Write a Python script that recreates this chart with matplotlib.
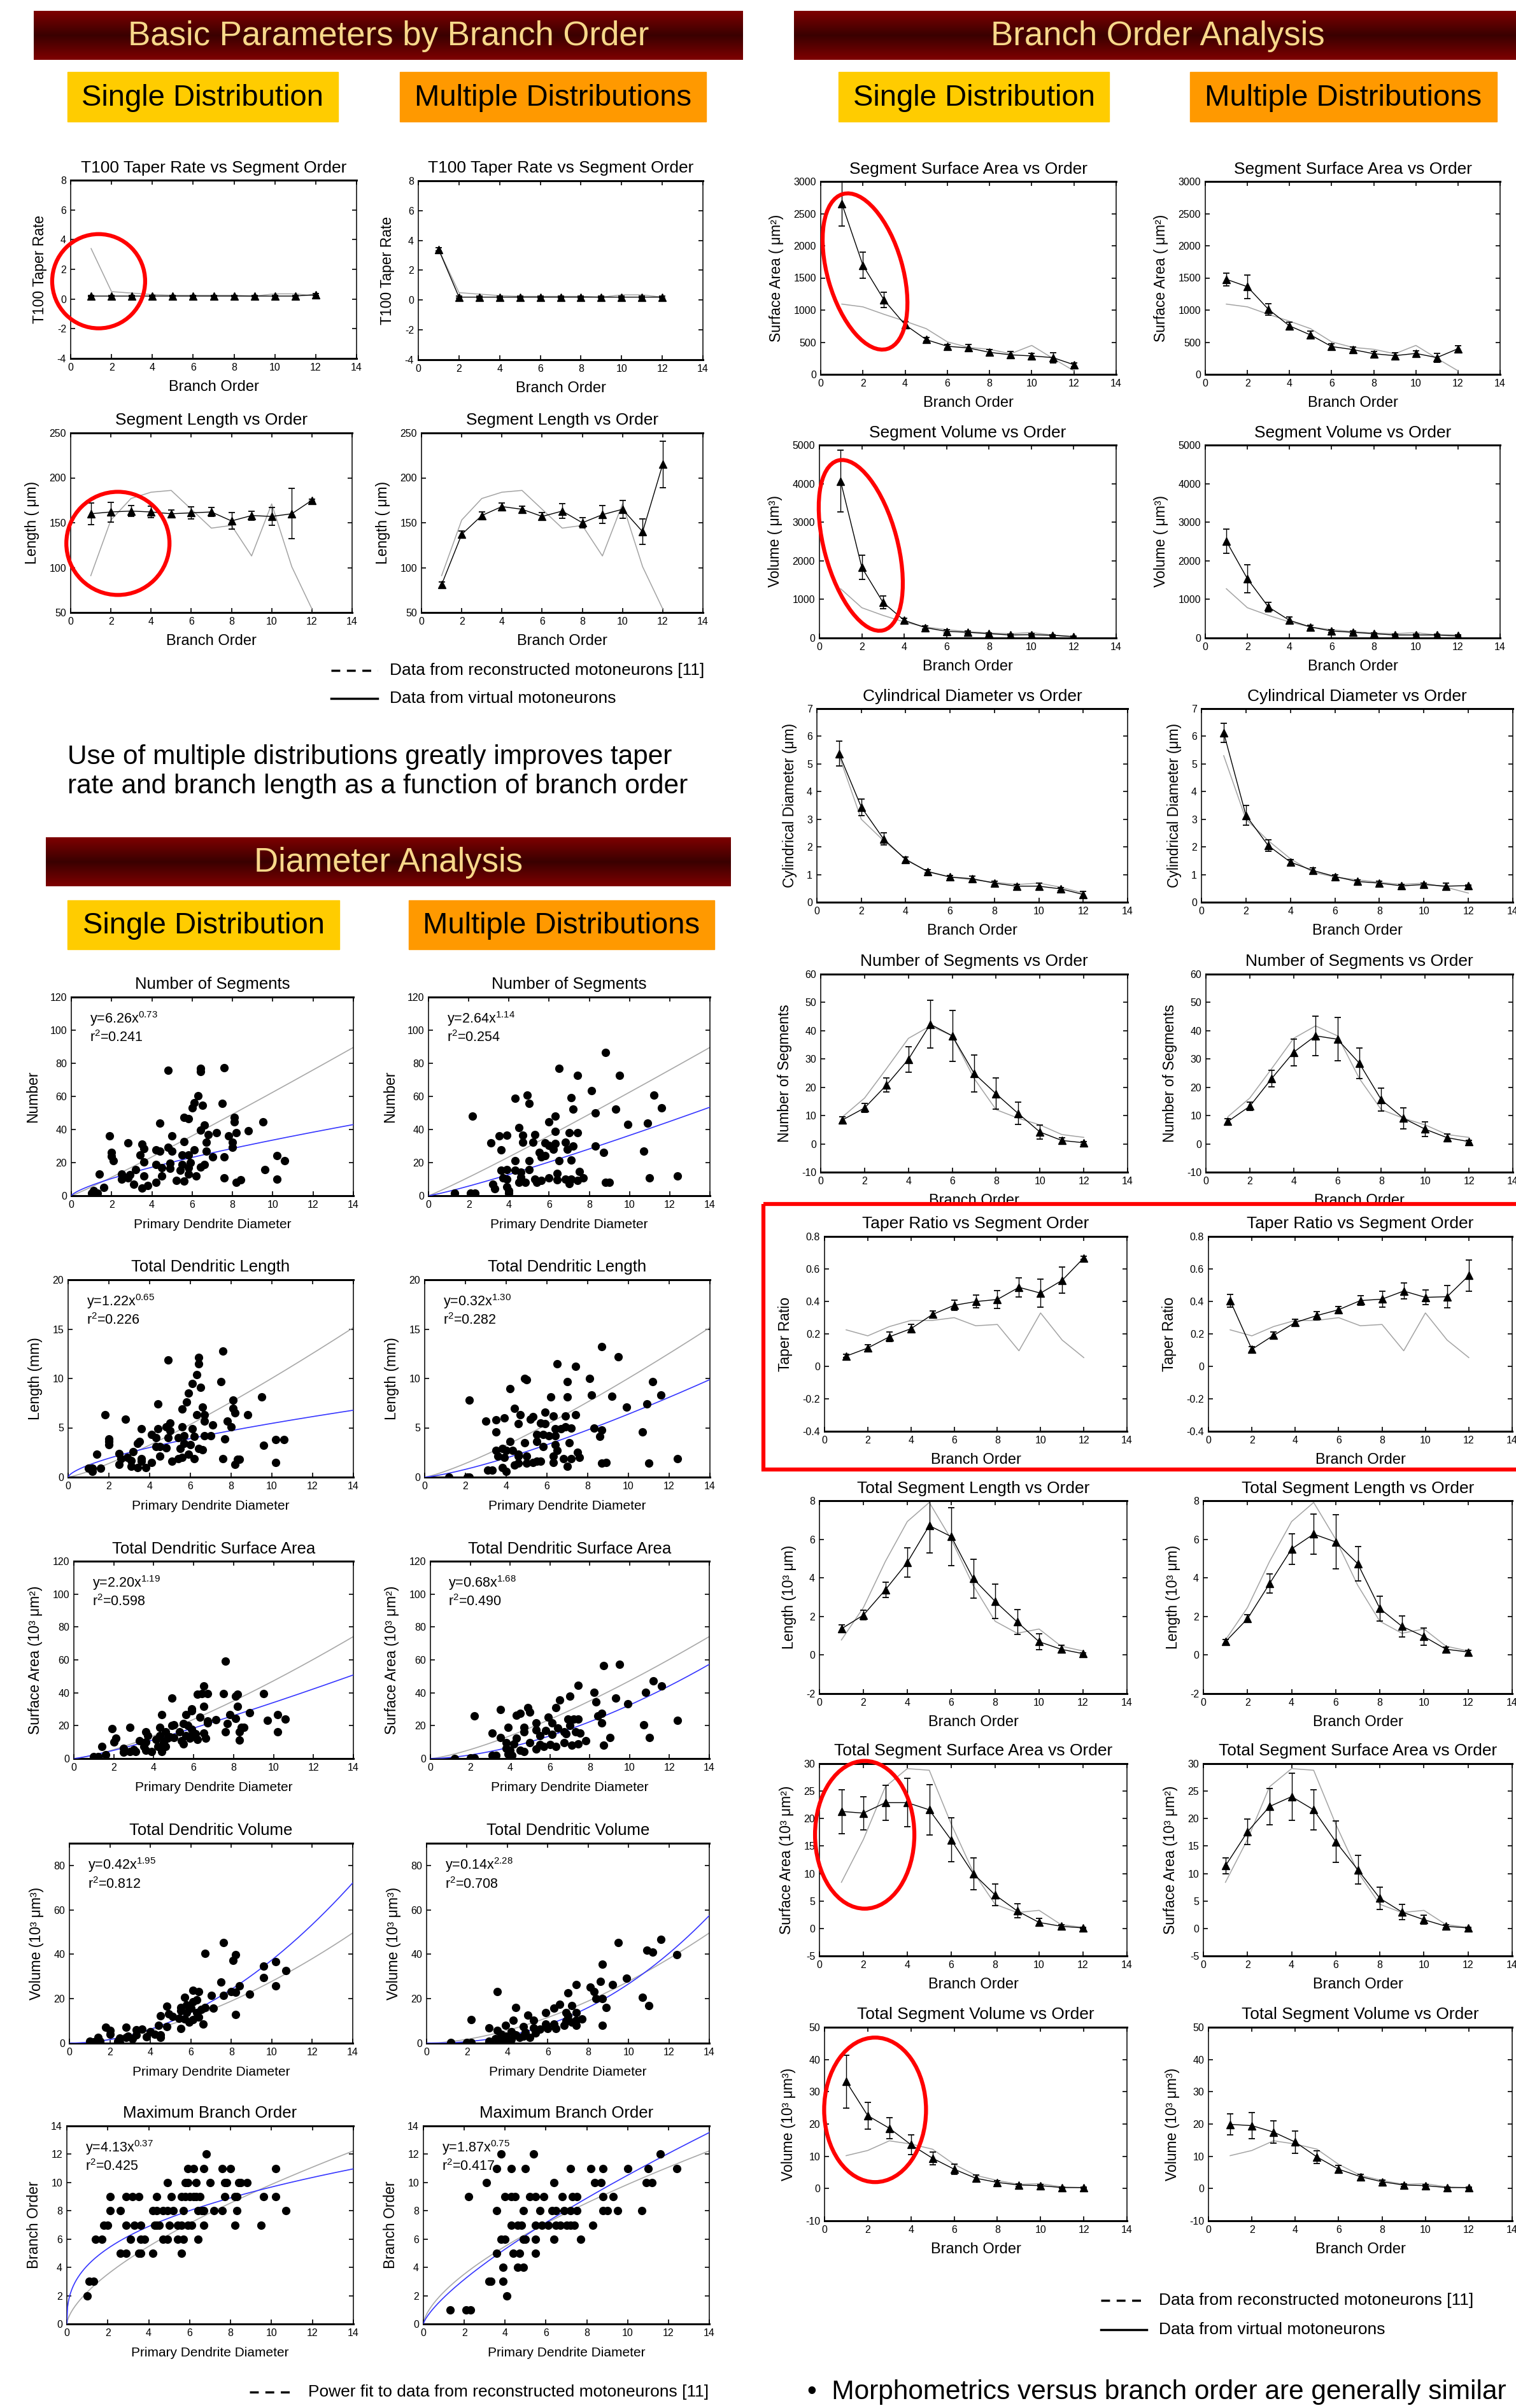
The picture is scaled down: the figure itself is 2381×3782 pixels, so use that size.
import numpy as np
import matplotlib
matplotlib.use('Agg')
import matplotlib.pyplot as plt
from matplotlib.patches import Ellipse, Rectangle
from matplotlib.colors import LinearSegmentedColormap

plt.rcParams['font.family'] = ['Liberation Sans', 'DejaVu Sans']
plt.rcParams['axes.unicode_minus'] = False
plt.rcParams['mathtext.fontset'] = 'custom'
plt.rcParams['mathtext.rm'] = 'Liberation Sans'
plt.rcParams['mathtext.it'] = 'Liberation Sans'
plt.rcParams['mathtext.default'] = 'regular'

# ---------------- branch order data (orders 1..12) ----------------
order = [1, 2, 3, 4, 5, 6, 7, 8, 9, 10, 11, 12]

t100_recon = [3.4, 0.5, 0.4, 0.3, 0.25, 0.25, 0.25, 0.25, 0.2, 0.35, 0.35, 0.2]
t100_single = [0.2, 0.2, 0.2, 0.2, 0.2, 0.2, 0.2, 0.2, 0.2, 0.2, 0.2, 0.3]
t100_single_err = [0.05, 0.05, 0.05, 0.05, 0.05, 0.05, 0.05, 0.05, 0.05, 0.05, 0.05, 0.05]
t100_multi = [3.4, 0.2, 0.2, 0.2, 0.2, 0.2, 0.2, 0.2, 0.2, 0.2, 0.2, 0.2]
t100_multi_err = [0.1, 0.05, 0.05, 0.05, 0.05, 0.05, 0.05, 0.05, 0.05, 0.05, 0.05, 0.05]

seglen_recon = [91, 153, 177, 184, 186, 165, 144, 147, 113, 171, 101, 54]
seglen_single = [160, 162, 163, 162, 160, 161, 162, 152, 158, 157, 160, 175]
seglen_single_err = [12, 11, 6, 6.5, 4.5, 6.5, 5, 9, 5, 10, 28, 1]
seglen_multi = [81, 137, 158, 168, 165, 157, 163, 150, 159, 165, 140, 215]
seglen_multi_err = [3, 3.5, 4, 4, 3.5, 4, 8, 6, 10, 10, 14, 26]

segsa_recon = [1093, 1050, 934, 827, 711, 506, 420, 390, 321, 450, 249, 56]
segsa_single = [2657, 1697, 1157, 771, 540, 437, 411, 343, 304, 287, 261, 150]
segsa_single_err = [350, 200, 120, 50, 30, 30, 50, 40, 50, 40, 80, 30]
segsa_multi = [1479, 1363, 1011, 754, 613, 433, 386, 321, 291, 326, 261, 399]
segsa_multi_err = [100, 180, 90, 60, 60, 40, 40, 40, 50, 40, 70, 50]

segvol_recon = [1276, 784, 586, 414, 284, 215, 164, 129, 112, 138, 78, 34]
segvol_single = [4060, 1828, 922, 457, 267, 172, 147, 112, 78, 86, 69, 34]
segvol_single_err = [800, 310, 160, 60, 40, 40, 30, 25, 20, 25, 20, 15]
segvol_multi = [2509, 1534, 802, 457, 284, 181, 147, 112, 78, 78, 78, 69]
segvol_multi_err = [310, 360, 120, 80, 50, 40, 30, 25, 20, 20, 20, 20]

cyl_recon = [5.3, 3.0, 2.23, 1.57, 1.09, 0.91, 0.81, 0.72, 0.64, 0.69, 0.54, 0.33]
cyl_single = [5.37, 3.44, 2.29, 1.54, 1.11, 0.91, 0.85, 0.69, 0.58, 0.58, 0.48, 0.28]
cyl_single_err = [0.45, 0.3, 0.22, 0.1, 0.06, 0.06, 0.1, 0.06, 0.06, 0.1, 0.06, 0.1]
cyl_multi = [6.13, 3.14, 2.05, 1.45, 1.15, 0.93, 0.75, 0.69, 0.59, 0.64, 0.58, 0.60]
cyl_multi_err = [0.35, 0.35, 0.2, 0.1, 0.1, 0.06, 0.06, 0.06, 0.06, 0.06, 0.12, 0.03]

nseg_recon = [9.6, 16.2, 26.6, 37.3, 41.7, 38.2, 23.1, 12.1, 9.1, 6.7, 3.3, 2.3]
nseg_single = [8.5, 12.7, 20.8, 29.9, 42.3, 38.2, 24.9, 17.7, 10.8, 4.2, 1.2, 0.4]
nseg_single_err = [1, 1.5, 2.5, 4.5, 8.5, 9, 6.5, 5.5, 4, 2.5, 1, 0.5]
nseg_multi = [7.9, 13.3, 23.1, 32.4, 38.2, 37.0, 28.5, 15.6, 9.1, 5.2, 2.2, 0.8]
nseg_multi_err = [1, 1.5, 3, 4.7, 7, 7.7, 5.4, 4, 3.7, 2.6, 1.3, 0.5]

taper_recon = [0.225, 0.188, 0.245, 0.283, 0.283, 0.30, 0.25, 0.258, 0.096, 0.329, 0.162, 0.054]
taper_single = [0.063, 0.113, 0.182, 0.232, 0.32, 0.376, 0.399, 0.412, 0.487, 0.451, 0.53, 0.668]
taper_single_err = [0.01, 0.02, 0.03, 0.025, 0.02, 0.03, 0.04, 0.054, 0.06, 0.088, 0.08, 0.01]
taper_multi = [0.405, 0.105, 0.191, 0.27, 0.313, 0.349, 0.405, 0.414, 0.464, 0.425, 0.429, 0.559]
taper_multi_err = [0.04, 0.015, 0.02, 0.02, 0.025, 0.02, 0.03, 0.05, 0.05, 0.045, 0.07, 0.095]

totlen_recon = [0.78, 2.46, 4.85, 6.92, 7.91, 6.0, 3.61, 1.75, 1.13, 1.35, 0.46, 0.21]
totlen_single = [1.36, 2.07, 3.38, 4.8, 6.71, 6.14, 3.96, 2.78, 1.72, 0.69, 0.3, 0.07]
totlen_single_err = [0.2, 0.25, 0.4, 0.75, 1.4, 1.5, 1.0, 0.9, 0.65, 0.42, 0.2, 0.05]
totlen_multi = [0.69, 1.88, 3.7, 5.5, 6.27, 5.86, 4.73, 2.41, 1.49, 0.96, 0.3, 0.16]
totlen_multi_err = [0.1, 0.2, 0.5, 0.8, 1.05, 1.4, 0.9, 0.65, 0.55, 0.45, 0.12, 0.1]

totsa_recon = [8.4, 16.2, 25.8, 29.1, 28.8, 19.0, 10.3, 4.4, 2.9, 3.3, 0.7, 0.2]
totsa_single = [21.3, 21.0, 22.9, 22.9, 21.6, 16.1, 10.0, 6.1, 3.2, 1.1, 0.4, 0.1]
totsa_single_err = [4, 3, 3.2, 4.4, 4.6, 4, 2.9, 2, 1.3, 0.7, 0.3, 0.1]
totsa_multi = [11.4, 17.6, 22.2, 24.0, 21.6, 15.8, 10.7, 5.5, 3.0, 1.6, 0.4, 0.1]
totsa_multi_err = [1.5, 2.3, 3.3, 4.3, 3.7, 3.8, 2.6, 2.0, 1.4, 0.8, 0.3, 0.1]

totvol_recon = [10.2, 11.8, 14.8, 13.8, 12.2, 7.5, 4.1, 2.5, 1.3, 1.5, 0.5, 0.3]
totvol_single = [33.2, 22.6, 18.7, 13.6, 9.4, 6.0, 3.2, 1.9, 1.1, 0.9, 0.3, 0.3]
totvol_single_err = [8.2, 4.2, 3.3, 3, 2, 1.5, 1, 0.6, 0.4, 0.3, 0.2, 0.2]
totvol_multi = [19.9, 19.5, 17.5, 14.4, 9.8, 6.0, 3.7, 2.1, 1.1, 0.9, 0.3, 0.3]
totvol_multi_err = [3.3, 4, 3.5, 3.5, 2, 1.2, 0.8, 0.5, 0.4, 0.3, 0.2, 0.2]

# ---------------- diameter analysis data (diameter, value) ----------------
nseg_s_pts = [(4.8, 75.6), (6.4, 75), (6.4, 77), (7.6, 77.2), (6.3, 60.2), (6.1, 56), (6.0, 53), (6.5, 54.8),
              (7.5, 55.7), (5.6, 47.3), (5.8, 46.4), (4.4, 43.7), (6.6, 42.8), (8.1, 47.3), (8.1, 44.8), (9.5, 44.6),
              (1.9, 36.1), (5.0, 36.1), (6.4, 39.6), (6.8, 37), (7.2, 38), (7.8, 36), (8.2, 38), (8.8, 39.4),
              (2.8, 31.9), (3.5, 31.3), (5.6, 32.8), (6.7, 32.2), (8.0, 32.5), (8.0, 29.3), (2.0, 26.1), (2.0, 23.8),
              (2.1, 21), (3.4, 24.8), (3.6, 28.4), (4.2, 27.8), (4.4, 26.8), (4.8, 29.3), (5.0, 26.8), (5.5, 24.8),
              (5.8, 24.8), (6.1, 27.7), (6.7, 27.1), (7.0, 23.4), (7.6, 23.3), (10.2, 24.2), (10.6, 21), (3.6, 20.3),
              (4.2, 19), (4.9, 19.7), (5.5, 19), (5.9, 19.9), (6.6, 19), (4.5, 17.1), (4.9, 16.5), (5.4, 15.2),
              (5.8, 17.1), (6.4, 17.4), (3.2, 15.8), (9.6, 15.6), (1.4, 13.2), (2.5, 13.2), (2.9, 12.6), (3.6, 12),
              (4.5, 12), (5.2, 9.4), (5.6, 8.7), (5.8, 13.2), (6.2, 12), (2.5, 10), (2.8, 10.7), (3.1, 7.1),
              (3.5, 4.6), (3.8, 6.2), (4.2, 8.1), (1.6, 4.9), (1.1, 3.2), (1.3, 1.7), (1.0, 1.7), (7.6, 10.7),
              (8.2, 8.1), (8.4, 9.6), (10.2, 10)]
nseg_m_pts = [(8.8, 86.6), (6.5, 76.9), (7.4, 72.8), (9.5, 72.8), (8.1, 63.4), (11.2, 60.8), (4.3, 59), (4.9, 60.8),
              (5.0, 55.7), (7.1, 59.2), (7.2, 52.5), (9.3, 52.5), (11.6, 53.1), (2.2, 48), (6.3, 48), (8.3, 49.9),
              (4.5, 41.3), (6.0, 44.5), (9.9, 43.1), (10.9, 43.7), (3.5, 36.1), (3.9, 36.7), (4.7, 36.4), (5.3, 37),
              (6.3, 39), (7.0, 38.2), (7.4, 38.2), (3.1, 31.9), (4.7, 32.5), (5.2, 32.5), (5.8, 31.9), (6.0, 30.4),
              (6.3, 31.5), (6.8, 32.5), (7.2, 30), (3.6, 27.7), (5.5, 26.1), (6.2, 28), (6.9, 28), (8.3, 30),
              (8.7, 26.1), (10.7, 26.8), (4.3, 21), (5.0, 21), (5.6, 23.5), (5.8, 24.2), (6.5, 21), (7.1, 21.6),
              (3.6, 15.2), (3.9, 15.8), (4.3, 15.2), (5.0, 15.6), (4.6, 14.3), (6.4, 13.5), (7.5, 14.8), (3.7, 10.7),
              (3.9, 10), (4.6, 11.3), (5.3, 10), (5.6, 9.4), (6.0, 10.7), (6.4, 9.6), (6.8, 10), (7.1, 10),
              (7.7, 10.7), (4.5, 8.1), (4.8, 8.1), (5.4, 8.1), (7.0, 7.5), (7.4, 9.4), (8.8, 8.1), (9.0, 8.1),
              (11.0, 10.7), (12.4, 12), (3.2, 6.8), (3.3, 4.2), (3.9, 5.5), (4.0, 3), (4.0, 1.7), (1.3, 1.4),
              (2.1, 1.4), (2.3, 1.4)]
len_s_pts = [(7.6, 12.8), (6.4, 12.1), (4.9, 11.9), (6.4, 11.5), (6.3, 10.4), (7.5, 9.7), (6.1, 9.5), (6.5, 9.1),
             (5.9, 8.5), (9.5, 8.1), (8.1, 7.8), (5.8, 7.6), (4.4, 7.4), (6.6, 7.1), (5.6, 6.9), (8.1, 7.0),
             (1.8, 6.3), (6.3, 6.3), (6.7, 6.3), (8.2, 6.5), (8.8, 6.3), (2.8, 5.9), (7.8, 5.7), (6.7, 5.7),
             (5.0, 5.5), (8.0, 5.1), (3.6, 4.9), (4.8, 5.1), (5.6, 5.1), (6.1, 4.9), (4.4, 4.9), (5.0, 4.7),
             (7.1, 5.3), (6.7, 4.2), (7.0, 4.2), (7.7, 3.9), (2.0, 3.9), (2.0, 3.6), (4.1, 4.3), (4.3, 4.0),
             (4.9, 4.0), (5.4, 4.0), (5.7, 4.2), (6.2, 4.1), (3.5, 3.6), (5.7, 3.4), (6.0, 3.3), (2.0, 3.3),
             (3.4, 3.4), (4.3, 3.1), (4.5, 3.1), (4.8, 3.0), (5.5, 2.9), (6.4, 2.9), (6.6, 2.8), (3.2, 2.6),
             (2.5, 2.4), (5.9, 2.3), (1.4, 2.3), (4.5, 2.1), (2.6, 1.9), (2.9, 2.0), (3.6, 1.9), (5.4, 1.9),
             (5.6, 2.0), (6.2, 1.9), (7.6, 1.9), (3.1, 1.7), (3.6, 1.6), (5.1, 1.6), (10.6, 3.8), (10.2, 3.8),
             (9.6, 3.2), (10.2, 1.5), (8.3, 1.8), (8.2, 1.3), (8.4, 1.8), (2.5, 1.3), (3.1, 1.1), (3.4, 1.0),
             (3.8, 1.0), (4.1, 1.5), (1.6, 0.9), (1.0, 0.9), (1.2, 0.6), (1.2, 0.9)]
len_m_pts = [(8.7, 13.2), (9.5, 12.2), (6.5, 11.5), (7.4, 11.2), (4.9, 10.0), (5.0, 9.9), (7.0, 9.7), (8.1, 10.0),
             (11.2, 9.7), (4.2, 9.0), (2.2, 7.8), (6.2, 8.1), (7.0, 8.1), (8.2, 8.3), (9.2, 8.2), (11.6, 8.3),
             (9.9, 7.1), (10.9, 7.4), (4.4, 7.0), (5.9, 6.6), (4.7, 6.3), (5.3, 6.1), (5.2, 5.9), (6.3, 6.2),
             (6.9, 6.2), (7.4, 6.3), (3.0, 5.7), (3.5, 5.8), (3.9, 6.0), (4.6, 5.4), (5.7, 5.5), (5.9, 5.4),
             (3.5, 4.6), (6.4, 4.9), (6.7, 4.9), (6.9, 5.1), (7.2, 5.0), (8.3, 5.0), (8.7, 4.8), (10.7, 4.6),
             (5.5, 4.3), (5.8, 4.3), (6.1, 4.2), (6.4, 4.2), (8.6, 4.1), (4.2, 3.6), (4.9, 3.5), (5.5, 3.6),
             (5.8, 3.1), (6.4, 3.3), (7.1, 3.5), (3.5, 2.7), (3.8, 2.9), (4.0, 2.7), (4.3, 2.7), (4.6, 2.3),
             (6.5, 2.7), (7.5, 2.5), (3.6, 2.1), (3.9, 2.0), (4.6, 2.1), (5.0, 2.1), (6.3, 2.1), (7.2, 1.9),
             (7.6, 2.0), (6.8, 1.9), (4.4, 1.2), (4.6, 1.4), (5.0, 1.4), (5.3, 1.5), (5.5, 1.6), (5.7, 1.6),
             (6.3, 1.5), (7.0, 1.1), (8.7, 1.4), (8.9, 1.5), (11.0, 1.4), (12.4, 1.9), (3.8, 1.0), (4.0, 0.6),
             (3.1, 0.7), (3.3, 0.7), (1.2, 0.0), (2.1, 0.0), (2.2, 0.0)]
sa_s_pts = [(7.6, 59.1), (4.9, 36.9), (6.5, 44), (6.2, 39.1), (6.4, 39.6), (6.7, 39.6), (7.5, 39.6), (8.2, 39.1),
            (8.1, 37.8), (9.5, 39.6), (6.5, 31.8), (8.2, 31.8), (5.9, 30.2), (5.9, 28.9), (4.4, 26.7), (5.6, 26.7),
            (7.8, 26.7), (8.8, 27.8), (10.2, 26.7), (10.6, 24), (9.7, 23.3), (6.3, 25.1), (6.7, 22.9), (7.1, 23.6),
            (8.1, 24.4), (1.9, 18.2), (2.8, 18.9), (4.3, 19.1), (4.9, 20), (5.0, 20.7), (5.5, 21.3), (5.7, 20),
            (5.9, 17.8), (6.7, 21.8), (7.7, 21.3), (8.4, 18.9), (8.5, 18.9), (10.2, 16.2), (7.6, 16.2), (8.3, 16.2),
            (3.6, 16.2), (4.6, 16.2), (5.3, 16.2), (6.1, 15.1), (6.5, 15.6), (3.7, 14), (4.3, 14), (4.8, 13.3),
            (5.6, 14), (5.9, 14), (2.1, 12.4), (4.1, 11.8), (4.7, 12.2), (5.0, 12.9), (5.8, 12.4), (6.2, 11.8),
            (6.6, 12.2), (2.0, 10.2), (3.3, 10.7), (3.6, 10.2), (4.5, 10), (5.4, 10.7), (5.5, 8.9), (8.3, 11.1),
            (1.4, 7.3), (3.5, 7.3), (4.2, 7.3), (4.6, 7.3), (2.5, 6.2), (3.0, 5.6), (3.6, 5.1), (2.5, 4),
            (2.8, 4.4), (3.1, 4.4), (3.9, 4.4), (4.4, 4.4), (1.6, 2.4), (1.0, 1.1), (1.2, 1.1)]
sa_m_pts = [(8.7, 56.7), (9.5, 57.3), (7.4, 44.4), (11.2, 47.3), (11.6, 44), (8.2, 40.2), (7.0, 37.8), (10.8, 40.2),
            (6.5, 35.8), (9.3, 36.9), (9.9, 33.3), (8.3, 34.4), (4.9, 31.1), (6.3, 31.1), (3.5, 30), (5.0, 28.4),
            (4.5, 27.3), (4.3, 26.2), (2.2, 25.8), (5.9, 25.1), (6.9, 24), (7.2, 24), (7.4, 24), (8.6, 27.3),
            (8.4, 25.8), (5.3, 21.8), (6.1, 21.8), (3.9, 19.1), (4.7, 19.1), (7.0, 20.2), (10.7, 20.7), (8.6, 21.8),
            (3.1, 15.6), (4.7, 16.2), (5.3, 17.3), (5.8, 16.9), (6.4, 18.4), (6.7, 16.2), (7.3, 16.2), (3.5, 12.9),
            (4.3, 12.2), (5.5, 14), (6.1, 14.7), (6.8, 15.1), (7.5, 15.6), (9.0, 12.9), (11.0, 12.9), (3.8, 9.6),
            (4.2, 8.9), (5.0, 9.6), (5.5, 8.4), (6.0, 8.4), (6.7, 9.6), (7.8, 10.7), (7.4, 8.9), (3.8, 6.2),
            (4.0, 5.1), (4.5, 5.1), (4.7, 4.4), (5.3, 5.8), (5.7, 7.3), (6.3, 7.3), (7.1, 8), (8.7, 8),
            (12.4, 23.3), (3.1, 1.8), (3.3, 1.8), (3.9, 2.9), (4.1, 1.8), (1.2, 0), (2.0, 0.2), (2.2, 0.2)]
vol_s_pts = [(7.6, 45.4), (6.7, 40.4), (8.2, 39.9), (8.1, 37.3), (10.2, 36.8), (9.6, 34.7), (10.7, 32.8), (9.6, 29.4),
             (7.5, 27.5), (10.2, 25.7), (8.4, 25.9), (6.1, 23.8), (6.4, 23.3), (7.0, 21.4), (7.6, 21.4), (8.0, 23.1),
             (8.2, 22.9), (8.9, 22.1), (5.7, 20.7), (6.3, 19.5), (6.1, 18.5), (6.7, 16.1), (7.1, 15.7), (4.8, 16.6),
             (5.5, 16.1), (5.8, 17.1), (6.0, 15.9), (5.5, 14.7), (5.8, 13.7), (6.3, 13.7), (6.5, 15.2), (4.9, 13.3),
             (5.1, 12.0), (4.5, 12.3), (5.4, 11.3), (5.7, 10.9), (6.1, 10.6), (6.4, 11.8), (8.2, 13.0), (4.4, 8.0),
             (4.8, 7.5), (5.5, 6.7), (6.6, 8.5), (5.9, 9.4), (1.8, 7.3), (2.8, 7.2), (2.0, 5.6), (3.3, 6.1),
             (3.6, 6.2), (4.0, 5.1), (4.2, 4.1), (4.5, 3.7), (4.5, 2.7), (2.0, 4.1), (2.9, 3.2), (3.3, 3.7),
             (3.8, 2.9), (2.5, 2.2), (2.8, 2.7), (3.1, 1.9), (1.4, 2.7), (1.5, 1.0), (1.0, 0.8), (1.2, 0.6),
             (2.4, 1.0), (2.5, 0.3)]
vol_m_pts = [(11.6, 46.8), (9.5, 45.4), (10.9, 41.8), (11.2, 41.1), (12.4, 39.7), (8.7, 35.4), (9.9, 29.1), (7.4, 26.5),
             (8.6, 27.7), (9.2, 26.5), (8.1, 25.3), (3.5, 23.3), (7.0, 22.7), (8.3, 23.3), (10.7, 20.7), (8.4, 20.2),
             (8.7, 20.2), (7.2, 16.9), (11.0, 16.9), (8.9, 16.1), (4.4, 16.1), (6.6, 17.6), (6.3, 15.7), (5.9, 13.7),
             (6.9, 13.7), (7.4, 13.7), (5.0, 12.5), (7.0, 12.3), (5.3, 10.4), (7.7, 10.9), (4.3, 10.2), (6.9, 9.9),
             (7.2, 9.4), (7.4, 10.4), (5.9, 8.5), (6.3, 8.5), (6.8, 8.0), (7.4, 8.0), (2.2, 10.6), (3.1, 7.0),
             (3.9, 8.0), (4.8, 7.5), (5.3, 7.0), (5.6, 6.3), (6.0, 6.7), (6.4, 6.5), (8.7, 8.0), (3.5, 5.8),
             (4.2, 5.1), (4.9, 4.8), (5.4, 4.6), (3.7, 4.1), (3.9, 3.2), (4.4, 3.7), (4.8, 3.2), (5.1, 2.7),
             (3.4, 1.9), (3.7, 1.5), (4.2, 1.7), (4.6, 2.7), (3.1, 1.0), (3.6, 0.8), (4.0, 0.8), (1.2, 0.3),
             (2.0, 0.3), (2.2, 0.3)]
maxbo_s_pts = [(6.8, 12), (5.9, 11), (6.2, 11), (6.7, 11), (7.6, 11), (8.0, 11), (10.2, 11),
               (4.9, 10), (5.8, 10), (5.9, 10), (6.3, 10), (7.0, 10), (7.7, 10), (7.8, 10), (8.4, 10), (8.5, 10),
               (8.8, 10), (2.1, 9), (2.9, 9), (3.2, 9), (3.5, 9), (4.4, 9), (5.1, 9), (5.6, 9), (5.8, 9), (6.0, 9),
               (6.2, 9), (6.3, 9), (6.5, 9), (7.7, 9), (8.2, 9), (8.3, 9), (9.6, 9), (10.2, 9),
               (2.1, 8), (2.6, 8), (4.2, 8), (4.4, 8), (4.7, 8), (4.9, 8), (5.2, 8), (5.7, 8), (6.4, 8), (6.6, 8),
               (6.7, 8), (7.2, 8), (7.6, 8), (8.3, 8), (10.7, 8),
               (1.8, 7), (2.0, 7), (2.9, 7), (3.3, 7), (3.6, 7), (4.3, 7), (4.4, 7), (4.5, 7), (5.0, 7), (5.4, 7),
               (5.6, 7), (5.9, 7), (6.1, 7), (6.7, 7), (8.2, 7), (9.5, 7),
               (1.4, 6), (1.7, 6), (3.1, 6), (3.6, 6), (3.8, 6), (4.7, 6), (4.9, 6), (5.4, 6), (5.7, 6), (6.4, 6),
               (2.6, 5), (2.9, 5), (3.5, 5), (3.6, 5), (4.2, 5), (5.6, 5), (1.1, 3), (1.3, 3), (1.0, 2)]
maxbo_m_pts = [(3.8, 12), (5.4, 12), (11.6, 12), (3.6, 11), (4.3, 11), (5.0, 11), (7.2, 11), (8.2, 11), (8.8, 11),
               (10.0, 11), (11.0, 11), (12.4, 11), (3.1, 10), (6.4, 10), (8.4, 10), (8.7, 10), (10.9, 10), (11.2, 10),
               (2.2, 9), (4.0, 9), (4.3, 9), (4.5, 9), (5.2, 9), (5.5, 9), (5.9, 9), (6.8, 9), (7.3, 9), (7.5, 9),
               (8.8, 9), (9.3, 9), (3.6, 8), (4.9, 8), (5.7, 8), (6.3, 8), (6.5, 8), (6.9, 8), (7.2, 8), (7.5, 8),
               (8.8, 8), (9.0, 8), (9.5, 8), (10.7, 8), (4.3, 7), (4.6, 7), (4.8, 7), (5.5, 7), (5.8, 7), (6.1, 7),
               (6.5, 7), (6.7, 7), (7.0, 7), (7.2, 7), (7.4, 7), (8.3, 7), (3.8, 6), (4.0, 6), (4.9, 6), (5.0, 6),
               (5.5, 6), (6.4, 6), (7.7, 6), (3.6, 5), (4.4, 5), (4.7, 5), (5.5, 5), (3.9, 4), (4.6, 4), (4.9, 4),
               (3.2, 3), (3.3, 3), (3.9, 3), (4.1, 2), (1.3, 1), (2.1, 1), (2.3, 1)]

# power fits (y = a x^b): virtual data (blue) and reconstructed data (gray)
fit_a_single = [6.26, 1.22, 2.20, 0.42, 4.13]
fit_b_single = [0.73, 0.65, 1.19, 1.95, 0.37]
r2_single = [0.241, 0.226, 0.598, 0.812, 0.425]
fit_a_multi = [2.64, 0.32, 0.68, 0.14, 1.87]
fit_b_multi = [1.14, 1.30, 1.68, 2.28, 0.75]
r2_multi = [0.254, 0.282, 0.490, 0.708, 0.417]
recon_a = [5.32, 0.59, 2.16, 0.53, 2.26]
recon_b = [1.07, 1.23, 1.34, 1.72, 0.64]

# ---------------- figure ----------------
W, H = 2381, 3782
fig = plt.figure(figsize=(W / 100, H / 100), dpi=100)

bg = fig.add_axes([0, 0, 1, 1], zorder=0)
bg.set_xlim(0, W)
bg.set_ylim(H, 0)
bg.axis('off')

ov = fig.add_axes([0, 0, 1, 1], zorder=10)
ov.set_xlim(0, W)
ov.set_ylim(H, 0)
ov.axis('off')
ov.patch.set_alpha(0)

band_cmap = LinearSegmentedColormap.from_list('band', ['#7e0000', '#3a0000', '#7e0000'])
grad = np.linspace(0, 1, 100).reshape(-1, 1)


def header(x0, y0, x1, y1, text):
    bg.imshow(grad, cmap=band_cmap, extent=(x0, x1, y1, y0), aspect='auto', zorder=1)
    bg.text((x0 + x1) / 2, (y0 + y1) / 2 + 2, text, color='#f7d88a', fontsize=38,
            ha='center', va='center', zorder=2)


def tag(x0, y0, x1, y1, text, color):
    bg.add_patch(Rectangle((x0, y0), x1 - x0, y1 - y0, color=color, zorder=1))
    bg.text((x0 + x1) / 2, (y0 + y1) / 2 + 2, text, fontsize=34, ha='center', va='center', zorder=2)


def add_ax(box):
    l, t, r, b = box
    return fig.add_axes([l / W, 1 - b / H, (r - l) / W, (b - t) / H], zorder=2)


def frame(ax, ylim, step):
    ax.set_xlim(0, 14)
    ax.set_xticks(np.arange(0, 15, 2))
    ax.set_ylim(*ylim)
    ticks = np.round(np.arange(ylim[0], ylim[1] + step / 2, step), 3)
    ax.set_yticks(ticks)
    ax.set_yticklabels(['%g' % t for t in ticks])
    ax.tick_params(direction='in', top=True, right=True, length=5, width=1.2,
                   labelsize=11.5, pad=5)
    for s in ax.spines.values():
        s.set_linewidth(1.1)
    ax.spines['top'].set_linewidth(2.2)
    ax.spines['bottom'].set_linewidth(2.2)


def order_plot(box, mean, err, recon, ylim, step, title, ylabel):
    ax = add_ax(box)
    ax.plot(order, recon, color='#a3a3a3', lw=1.1, zorder=2)
    ax.errorbar(order, mean, yerr=err, color='black', lw=1.0, elinewidth=1.0, capsize=3.5,
                capthick=1.3, marker='^', ms=9, zorder=3)
    frame(ax, ylim, step)
    ax.set_title(title, fontsize=19, pad=9)
    ax.set_xlabel('Branch Order', fontsize=17, labelpad=9)
    ax.set_ylabel(ylabel, fontsize=16.5, labelpad=11)
    return ax, box, ylim


def diam_plot(box, pts, a, b, r2, ga, gb, ylim, step, title, ylabel):
    ax = add_ax(box)
    xx = np.linspace(0, 14, 400)
    ax.plot(xx, ga * xx ** gb, color='#a8a8a8', lw=1.2, zorder=2)
    ax.plot(xx, a * xx ** b, color='#3535ff', lw=1.2, zorder=3)
    px = [p[0] for p in pts]
    py = [p[1] for p in pts]
    ax.plot(px, py, 'o', color='black', ms=8.5, zorder=4)
    frame(ax, ylim, step)
    ax.text(0.065, 0.89, 'y=%.2fx$^{%.2f}$' % (a, b), transform=ax.transAxes, fontsize=15.5, va='center', zorder=5)
    ax.text(0.065, 0.795, 'r$^2$=%.3f' % r2, transform=ax.transAxes, fontsize=15.5, va='center', zorder=5)
    ax.set_title(title, fontsize=18.5, pad=9)
    ax.set_xlabel('Primary Dendrite Diameter', fontsize=15, labelpad=10)
    ax.set_ylabel(ylabel, fontsize=16.5, labelpad=11)
    return ax


def ring(box, xlim, ylim, x, y, w, h, ang=0):
    l, t, r, b = box
    cx = l + (x - xlim[0]) / (xlim[1] - xlim[0]) * (r - l)
    cy = b - (y - ylim[0]) / (ylim[1] - ylim[0]) * (b - t)
    ov.add_patch(Ellipse((cx, cy), w, h, angle=ang, fill=False, ec='#ff0000', lw=4.5))


# ---------- headers and tags ----------
header(53, 17, 1167, 94, 'Basic Parameters by Branch Order')
header(1247, 17, 2390, 94, 'Branch Order Analysis')
header(72, 1315, 1148, 1392, 'Diameter Analysis')
tag(106, 113, 531, 191, 'Single Distribution', '#ffcc00')
tag(628, 113, 1109, 191, 'Multiple Distributions', '#ff9900')
tag(1317, 113, 1742, 191, 'Single Distribution', '#ffcc00')
tag(1869, 113, 2351, 191, 'Multiple Distributions', '#ff9900')
tag(106, 1414, 533, 1491, 'Single Distribution', '#ffcc00')
tag(642, 1414, 1122, 1491, 'Multiple Distributions', '#ff9900')

# ---------- basic parameters ----------
t100_box_s = (111, 283, 560, 563)
seglen_box_s = (111, 680, 553, 962)
order_plot(t100_box_s, t100_single, t100_single_err, t100_recon, (-4, 8), 2,
           'T100 Taper Rate vs Segment Order', 'T100 Taper Rate')
order_plot((657, 284, 1104, 565), t100_multi, t100_multi_err, t100_recon, (-4, 8), 2,
           'T100 Taper Rate vs Segment Order', 'T100 Taper Rate')
order_plot(seglen_box_s, seglen_single, seglen_single_err, seglen_recon, (50, 250), 50,
           'Segment Length vs Order', 'Length ( μm)')
order_plot((662, 680, 1104, 962), seglen_multi, seglen_multi_err, seglen_recon, (50, 250), 50,
           'Segment Length vs Order', 'Length ( μm)')
ring(t100_box_s, (0, 14), (-4, 8), 1.37, 1.2, 146, 148)
ring(seglen_box_s, (0, 14), (50, 250), 2.35, 127, 162, 162)

# legend (top left)
bg.plot([520, 593], [1053, 1053], color='black', lw=2.5, ls=(0, (4, 3)))
bg.plot([520, 593], [1097, 1097], color='black', lw=2.5)
bg.text(612, 1053, 'Data from reconstructed motoneurons [11]', fontsize=19, va='center')
bg.text(612, 1097, 'Data from virtual motoneurons', fontsize=19, va='center')

bg.text(106, 1212, 'Use of multiple distributions greatly improves taper\nrate and branch length as a function of branch order',
        fontsize=30.5, va='center', ha='left', linespacing=1.2)

# ---------- diameter analysis ----------
diam_rows = [(1566, 1878, (112, 555), (673, 1115)),
             (2010, 2320, (107, 555), (667, 1115)),
             (2452, 2762, (116, 555), (676, 1114)),
             (2895, 3209, (109, 554), (670, 1114)),
             (3339, 3650, (105, 555), (665, 1114))]
diam_titles = ['Number of Segments', 'Total Dendritic Length', 'Total Dendritic Surface Area',
               'Total Dendritic Volume', 'Maximum Branch Order']
diam_ylabels = ['Number', 'Length (mm)', 'Surface Area (10³ μm²)', 'Volume (10³ μm³)', 'Branch Order']
diam_ylims = [((0, 120), 20), ((0, 20), 5), ((0, 120), 20), ((0, 90), 20), ((0, 14), 2)]
single_sets = [nseg_s_pts, len_s_pts, sa_s_pts, vol_s_pts, maxbo_s_pts]
multi_sets = [nseg_m_pts, len_m_pts, sa_m_pts, vol_m_pts, maxbo_m_pts]
for i, (t, b, lx, rx) in enumerate(diam_rows):
    ylim, step = diam_ylims[i]
    diam_plot((lx[0], t, lx[1], b), single_sets[i], fit_a_single[i], fit_b_single[i], r2_single[i],
              recon_a[i], recon_b[i], ylim, step, diam_titles[i], diam_ylabels[i])
    diam_plot((rx[0], t, rx[1], b), multi_sets[i], fit_a_multi[i], fit_b_multi[i], r2_multi[i],
              recon_a[i], recon_b[i], ylim, step, diam_titles[i], diam_ylabels[i])

bg.plot([392, 463], [3757, 3757], color='black', lw=2.5, ls=(0, (4, 3)))
bg.text(484, 3757, 'Power fit to data from reconstructed motoneurons [11]', fontsize=19, va='center')

# ---------- branch order analysis ----------
right_rows = [
    ((1289, 285, 1753, 588), (1893, 285, 2356, 588), segsa_single, segsa_single_err, segsa_multi, segsa_multi_err,
     segsa_recon, (0, 3000), 500, 'Segment Surface Area vs Order', 'Surface Area ( μm²)'),
    ((1287, 699, 1753, 1002), (1893, 699, 2356, 1002), segvol_single, segvol_single_err, segvol_multi,
     segvol_multi_err, segvol_recon, (0, 5000), 1000, 'Segment Volume vs Order', 'Volume ( μm³)'),
    ((1283, 1113, 1771, 1417), (1887, 1113, 2376, 1417), cyl_single, cyl_single_err, cyl_multi, cyl_multi_err,
     cyl_recon, (0, 7), 1, 'Cylindrical Diameter vs Order', 'Cylindrical Diameter (μm)'),
    ((1289, 1530, 1771, 1841), (1894, 1530, 2376, 1841), nseg_single, nseg_single_err, nseg_multi, nseg_multi_err,
     nseg_recon, (-10, 60), 10, 'Number of Segments vs Order', 'Number of Segments'),
    ((1295, 1942, 1770, 2248), (1898, 1942, 2375, 2248), taper_single, taper_single_err, taper_multi,
     taper_multi_err, taper_recon, (-0.4, 0.8), 0.2, 'Taper Ratio vs Segment Order', 'Taper Ratio'),
    ((1287, 2357, 1770, 2660), (1890, 2357, 2375, 2660), totlen_single, totlen_single_err, totlen_multi,
     totlen_multi_err, totlen_recon, (-2, 8), 2, 'Total Segment Length vs Order', 'Length (10³ μm)'),
    ((1287, 2770, 1770, 3072), (1890, 2770, 2375, 3072), totsa_single, totsa_single_err, totsa_multi,
     totsa_multi_err, totsa_recon, (-5, 30), 5, 'Total Segment Surface Area vs Order', 'Surface Area (10³ μm²)'),
    ((1295, 3184, 1770, 3488), (1898, 3184, 2375, 3488), totvol_single, totvol_single_err, totvol_multi,
     totvol_multi_err, totvol_recon, (-10, 50), 10, 'Total Segment Volume vs Order', 'Volume (10³ μm³)'),
]
for (bs, bm, ms, es, mm, em, rc, ylim, step, title, ylab) in right_rows:
    order_plot(bs, ms, es, rc, ylim, step, title, ylab)
    order_plot(bm, mm, em, rc, ylim, step, title, ylab)

ring(right_rows[0][0], (0, 14), (0, 3000), 2.1, 1600, 118, 253, -16)
ring(right_rows[1][0], (0, 14), (0, 5000), 1.95, 2400, 115, 276, -15)
ring(right_rows[6][0], (0, 14), (-5, 30), 2.06, 17.05, 156, 232)
ring(right_rows[7][0], (0, 14), (-10, 50), 2.34, 24.4, 160, 227)

# red frame around taper ratio row
ov.add_patch(Rectangle((1199, 1891), 1210, 417, fill=False, ec='#ff0000', lw=4.5))

# legend (bottom right)
bg.plot([1729, 1801], [3613, 3613], color='black', lw=2.5, ls=(0, (4, 3)))
bg.plot([1729, 1801], [3659, 3659], color='black', lw=2.5)
bg.text(1820, 3613, 'Data from reconstructed motoneurons [11]', fontsize=19, va='center')
bg.text(1820, 3659, 'Data from virtual motoneurons', fontsize=19, va='center')

bg.text(1268, 3757, '•  Morphometrics versus branch order are generally similar', fontsize=30.5,
        va='center', ha='left')

fig.savefig('out.png', dpi=100)
